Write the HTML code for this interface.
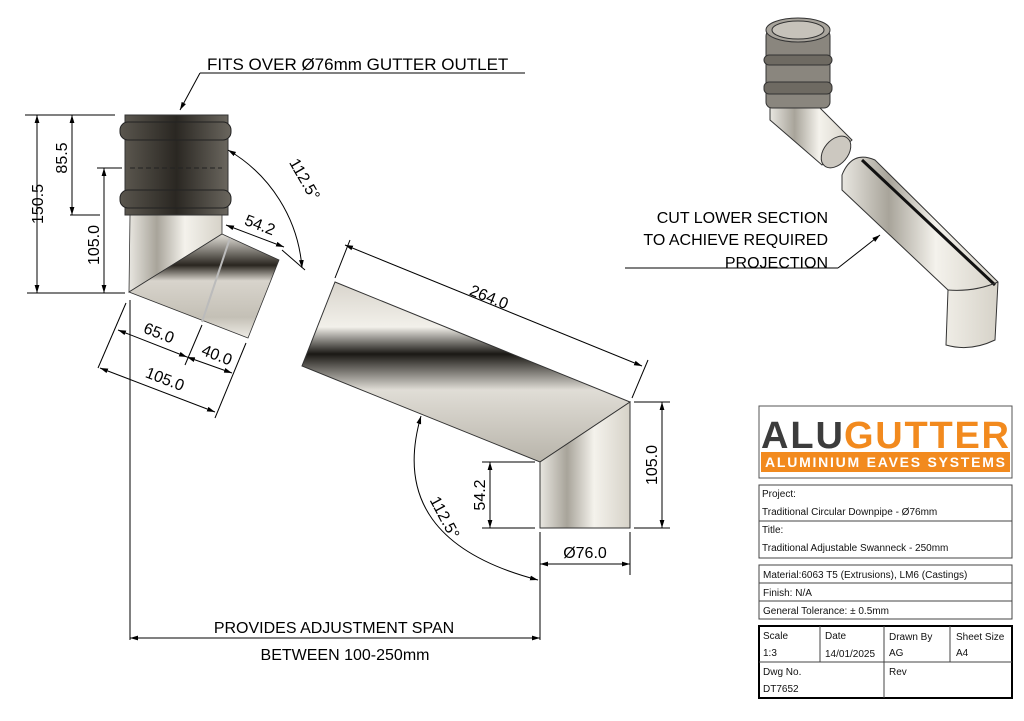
<!DOCTYPE html>
<html><head><meta charset="utf-8"><style>
html,body{margin:0;padding:0;background:#fff;}
svg{display:block;font-family:"Liberation Sans",Arial,sans-serif;}
</style></head><body>
<svg width="1024" height="721" viewBox="0 0 1024 721" xmlns="http://www.w3.org/2000/svg">
<defs>
<linearGradient id="vpipe" x1="0" y1="0" x2="1" y2="0">
<stop offset="0" stop-color="#e8e6e0"/><stop offset="0.3" stop-color="#a8a49a"/><stop offset="0.6" stop-color="#f4f2ec"/><stop offset="1" stop-color="#d6d2c8"/></linearGradient>
<linearGradient id="dark" x1="0" y1="0" x2="1" y2="0">
<stop offset="0" stop-color="#5a564e"/><stop offset="0.5" stop-color="#2a2722"/><stop offset="1" stop-color="#6a665e"/></linearGradient>
<linearGradient id="diag" x1="0" y1="0" x2="0" y2="1">
<stop offset="0" stop-color="#e6e3dc"/><stop offset="0.3" stop-color="#2a2620"/><stop offset="0.45" stop-color="#d8d4cc"/><stop offset="0.8" stop-color="#c4c0b6"/><stop offset="1" stop-color="#eeece6"/></linearGradient>
<linearGradient id="diag2" x1="0" y1="0" x2="0" y2="1">
<stop offset="0" stop-color="#d8d4cc"/><stop offset="0.25" stop-color="#f2f0ea"/><stop offset="0.4" stop-color="#1a1814"/><stop offset="0.6" stop-color="#e0ddd6"/><stop offset="1" stop-color="#b8b4aa"/></linearGradient>
<marker id="a" viewBox="0 0 10 10" refX="10" refY="5" markerWidth="8" markerHeight="8" orient="auto-start-reverse"><path d="M0,2 L10,5 L0,8 z" fill="#000"/></marker>
</defs>
<g stroke="#000" stroke-width="1" fill="none">
<line x1="200" y1="73" x2="525" y2="73"/>
<line x1="200" y1="73" x2="180" y2="110" marker-end="url(#a)"/>
</g>
<text x="207" y="70" font-size="17">FITS OVER Ø76mm GUTTER OUTLET</text>

<!-- left fitting -->
<path d="M130,215 L222,215 L222,234 L129,292 Z" fill="url(#vpipe)" stroke="#333" stroke-width="0.8"/>
<path d="M129,292 L222,234 L279,260 L248,338 Z" fill="url(#diag)" stroke="#333" stroke-width="0.8"/>
<line x1="230" y1="238" x2="202" y2="322" stroke="#bbb" stroke-width="2"/>
<rect x="125" y="115" width="103" height="100" fill="url(#dark)" stroke="#333"/>
<rect x="120" y="122" width="111" height="18" rx="8" fill="url(#dark)" stroke="#222"/>
<rect x="120" y="190" width="111" height="18" rx="8" fill="url(#dark)" stroke="#222"/>
<line x1="130" y1="168" x2="222" y2="168" stroke="#222" stroke-dasharray="5,3"/>

<g stroke="#000" stroke-width="1" fill="none">
<line x1="25" y1="115" x2="115" y2="115"/>
<line x1="27" y1="293" x2="125" y2="293"/>
<line x1="97" y1="168" x2="122" y2="168"/>
<line x1="70" y1="215" x2="100" y2="215"/>
<line x1="37" y1="115" x2="37" y2="293" marker-start="url(#a)" marker-end="url(#a)"/>
<line x1="72" y1="115" x2="72" y2="215" marker-start="url(#a)" marker-end="url(#a)"/>
<line x1="104" y1="168" x2="104" y2="293" marker-start="url(#a)" marker-end="url(#a)"/>
<path d="M228,150 A150,150 0 0 1 302,268" marker-start="url(#a)" marker-end="url(#a)"/>
<line x1="226" y1="225" x2="284" y2="247" marker-start="url(#a)" marker-end="url(#a)"/>
<line x1="305" y1="270" x2="282" y2="250"/>
<line x1="130" y1="300" x2="130" y2="640"/>
<line x1="98" y1="368" x2="126" y2="303"/>
<line x1="185" y1="365" x2="202" y2="325"/>
<line x1="215" y1="418" x2="246" y2="343"/>
<line x1="118" y1="330" x2="187" y2="357" marker-start="url(#a)" marker-end="url(#a)"/>
<line x1="187" y1="357" x2="232" y2="373" marker-start="url(#a)" marker-end="url(#a)"/>
<line x1="100" y1="368" x2="215" y2="412" marker-start="url(#a)" marker-end="url(#a)"/>
</g>
<g font-size="16">
<text transform="translate(43,204) rotate(-90)" text-anchor="middle">150.5</text>
<text transform="translate(67,158) rotate(-90)" text-anchor="middle">85.5</text>
<text transform="translate(99,245) rotate(-90)" text-anchor="middle">105.0</text>
<text transform="translate(300,182) rotate(60)" text-anchor="middle">112.5°</text>
<text transform="translate(258,230) rotate(21)" text-anchor="middle">54.2</text>
<text transform="translate(157,338) rotate(21)" text-anchor="middle">65.0</text>
<text transform="translate(215,360) rotate(21)" text-anchor="middle">40.0</text>
<text transform="translate(163,384) rotate(21)" text-anchor="middle">105.0</text>
</g>

<!-- middle pipe -->
<path d="M335,282 L630,402 L540,462 L302,366 Z" fill="url(#diag2)" stroke="#333"/>
<path d="M540,462 L630,402 L630,528 L540,528 Z" fill="url(#vpipe)" stroke="#333"/>
<g stroke="#000" stroke-width="1" fill="none">
<line x1="335" y1="278" x2="350" y2="240"/>
<line x1="632" y1="398" x2="648" y2="360"/>
<line x1="345" y1="245" x2="642" y2="366" marker-start="url(#a)" marker-end="url(#a)"/>
<line x1="634" y1="402" x2="670" y2="402"/>
<line x1="634" y1="528" x2="670" y2="528"/>
<line x1="662" y1="402" x2="662" y2="528" marker-start="url(#a)" marker-end="url(#a)"/>
<line x1="482" y1="462" x2="535" y2="462"/>
<line x1="482" y1="528" x2="535" y2="528"/>
<line x1="490" y1="462" x2="490" y2="528" marker-start="url(#a)" marker-end="url(#a)"/>
<line x1="540" y1="532" x2="540" y2="640"/>
<line x1="630" y1="532" x2="630" y2="575"/>
<line x1="540" y1="564" x2="630" y2="564" marker-start="url(#a)" marker-end="url(#a)"/>
<path d="M421,416 Q385,540 538,580" marker-start="url(#a)" marker-end="url(#a)"/>
<line x1="130" y1="638" x2="540" y2="638" marker-start="url(#a)" marker-end="url(#a)"/>
</g>
<g font-size="16">
<text transform="translate(487,302) rotate(22)" text-anchor="middle">264.0</text>
<text transform="translate(657,465) rotate(-90)" text-anchor="middle">105.0</text>
<text transform="translate(485,495) rotate(-90)" text-anchor="middle">54.2</text>
<text x="585" y="558" text-anchor="middle">Ø76.0</text>
<text transform="translate(440,520) rotate(62)" text-anchor="middle">112.5°</text>
</g>
<text x="334" y="633" font-size="16" text-anchor="middle">PROVIDES ADJUSTMENT SPAN</text>
<text x="345" y="660" font-size="16" text-anchor="middle">BETWEEN 100-250mm</text>

<!-- 3D view -->
<path d="M770,100 L770,120 L822,165 L852,140 L812,100 Z" fill="url(#vpipe)" stroke="#333"/>
<ellipse cx="836" cy="152" rx="12" ry="18" transform="rotate(40 836 152)" fill="#ccc8c0" stroke="#333"/>
<rect x="766" y="30" width="64" height="78" rx="6" fill="#8a867e" stroke="#333"/>
<rect x="764" y="55" width="68" height="10" rx="5" fill="#6e6a62" stroke="#333"/>
<rect x="764" y="82" width="68" height="12" rx="5" fill="#6e6a62" stroke="#333"/>
<ellipse cx="798" cy="30" rx="32" ry="12" fill="#a8a49c" stroke="#333"/>
<ellipse cx="798" cy="30" rx="26" ry="9" fill="#c6c2ba" stroke="#333"/>
<path d="M842,175 Q852,150 875,160 L998,282 L995,340 Q970,352 946,345 L948,290 L842,190 Z" fill="url(#vpipe)" stroke="#333"/>
<line x1="862" y1="160" x2="995" y2="285" stroke="#111" stroke-width="3"/>
<path d="M948,290 Q975,292 998,282" fill="none" stroke="#333"/>
<g stroke="#000" fill="none">
<line x1="625" y1="268" x2="838" y2="268"/>
<line x1="838" y1="268" x2="880" y2="235" marker-end="url(#a)"/>
</g>
<g font-size="16" text-anchor="end">
<text x="828" y="223">CUT LOWER SECTION</text>
<text x="828" y="245">TO ACHIEVE REQUIRED</text>
<text x="828" y="268">PROJECTION</text>
</g>

<!-- title block -->
<rect x="759" y="406" width="253" height="72" fill="#fff" stroke="#555"/>
<text x="761" y="448" font-size="38" font-weight="bold" fill="#3c3c3c" textLength="82">ALU</text>
<text x="844" y="448" font-size="38" font-weight="bold" fill="#f28a1e" textLength="165">GUTTER</text>
<rect x="761" y="452" width="249" height="20" fill="#f28a1e"/>
<text x="885" y="467" font-size="14" font-weight="bold" fill="#fff" text-anchor="middle" textLength="240">ALUMINIUM EAVES SYSTEMS</text>
<g fill="none" stroke="#444">
<rect x="759" y="485" width="253" height="73"/>
<line x1="759" y1="521" x2="1012" y2="521"/>
<rect x="759" y="565" width="253" height="54"/>
<line x1="759" y1="583" x2="1012" y2="583"/>
<line x1="759" y1="601" x2="1012" y2="601"/>
<rect x="759" y="626" width="253" height="72" stroke="#000" stroke-width="2"/>
<line x1="759" y1="662" x2="1012" y2="662"/>
<line x1="820" y1="626" x2="820" y2="662"/>
<line x1="884" y1="626" x2="884" y2="698"/>
<line x1="950" y1="626" x2="950" y2="662"/>
</g>
<g font-size="10" fill="#111">
<text x="762" y="497">Project:</text>
<text x="762" y="515">Traditional Circular Downpipe - Ø76mm</text>
<text x="762" y="533">Title:</text>
<text x="762" y="551">Traditional Adjustable Swanneck - 250mm</text>
<text x="763" y="578">Material:6063 T5 (Extrusions), LM6 (Castings)</text>
<text x="763" y="596">Finish: N/A</text>
<text x="763" y="614">General Tolerance: ± 0.5mm</text>
<text x="763" y="639">Scale</text>
<text x="763" y="656">1:3</text>
<text x="825" y="639">Date</text>
<text x="825" y="657">14/01/2025</text>
<text x="889" y="640">Drawn By</text>
<text x="889" y="656">AG</text>
<text x="956" y="640">Sheet Size</text>
<text x="956" y="656">A4</text>
<text x="763" y="675">Dwg No.</text>
<text x="763" y="692">DT7652</text>
<text x="889" y="675">Rev</text>
</g>
</svg>
</body></html>
